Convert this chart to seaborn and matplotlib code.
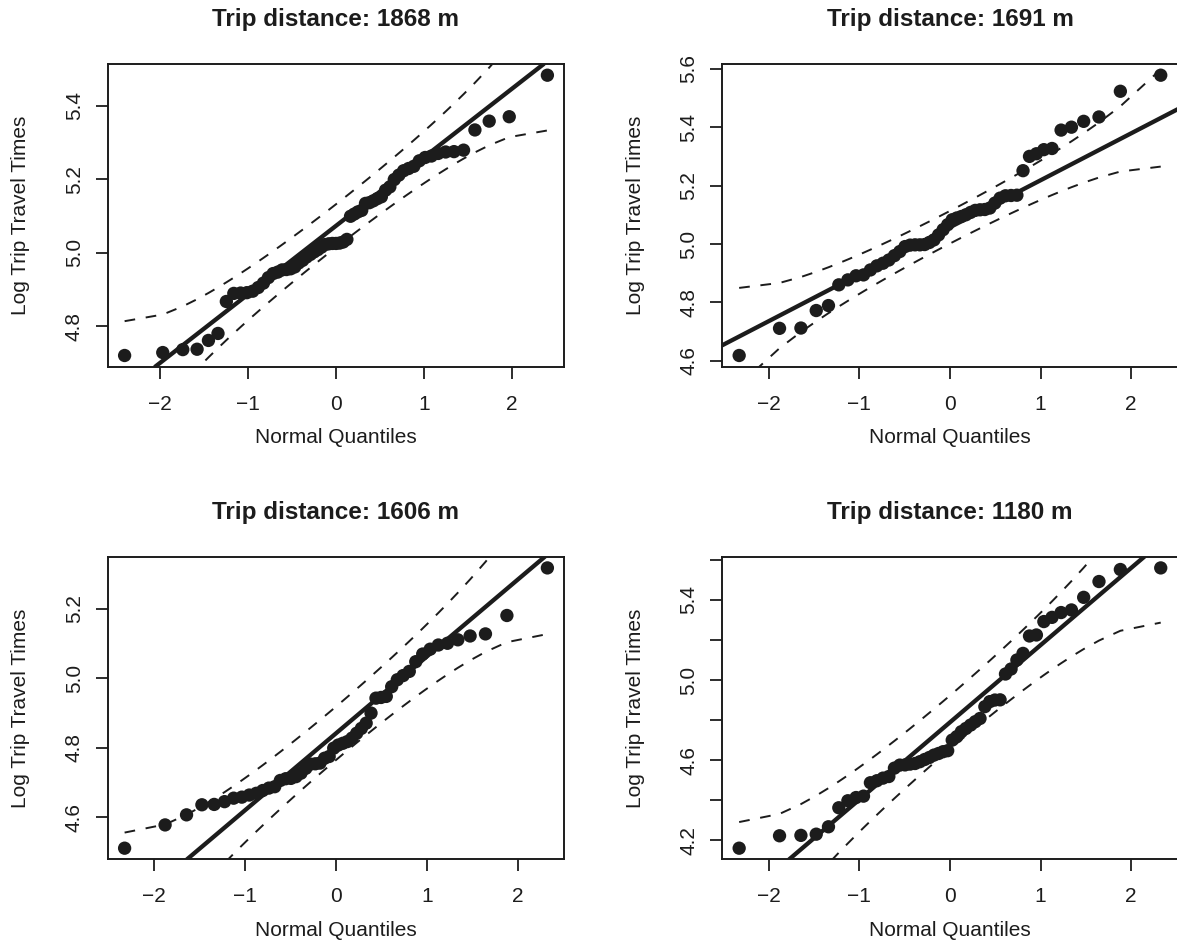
import numpy as np
import matplotlib
matplotlib.use("Agg")
import matplotlib.pyplot as plt
import seaborn as sns
from statistics import NormalDist

# Sorted log travel times for four trips
trip_1868 = [4.720, 4.728, 4.736, 4.737, 4.761, 4.780, 4.867, 4.889, 4.890, 4.891,
             4.895, 4.905, 4.917, 4.932, 4.943, 4.947, 4.953, 4.954, 4.956, 4.961,
             4.972, 4.979, 4.988, 4.995, 5.002, 5.008, 5.015, 5.022, 5.024, 5.025,
             5.025, 5.026, 5.029, 5.036, 5.099, 5.105, 5.111, 5.115, 5.134, 5.136,
             5.141, 5.147, 5.152, 5.170, 5.179, 5.199, 5.211, 5.223, 5.229, 5.235,
             5.250, 5.259, 5.263, 5.270, 5.274, 5.275, 5.279, 5.334, 5.358, 5.370,
             5.483]
trip_1691 = [4.618, 4.711, 4.712, 4.772, 4.789, 4.860, 4.877, 4.891, 4.894, 4.911,
             4.925, 4.934, 4.945, 4.960, 4.974, 4.991, 4.996, 4.997, 4.997, 4.998,
             5.005, 5.014, 5.031, 5.049, 5.066, 5.083, 5.089, 5.094, 5.100, 5.108,
             5.115, 5.117, 5.118, 5.123, 5.140, 5.157, 5.165, 5.166, 5.167, 5.251,
             5.300, 5.309, 5.323, 5.327, 5.390, 5.400, 5.420, 5.435, 5.523, 5.578]
trip_1606 = [4.511, 4.578, 4.607, 4.636, 4.637, 4.645, 4.655, 4.658, 4.664, 4.669,
             4.677, 4.684, 4.688, 4.706, 4.711, 4.712, 4.717, 4.727, 4.741, 4.753,
             4.754, 4.756, 4.770, 4.775, 4.799, 4.808, 4.813, 4.818, 4.828, 4.842,
             4.856, 4.871, 4.900, 4.943, 4.945, 4.948, 4.976, 4.996, 5.008, 5.020,
             5.048, 5.070, 5.084, 5.096, 5.101, 5.111, 5.122, 5.128, 5.181, 5.318]
trip_1180 = [4.160, 4.222, 4.224, 4.230, 4.267, 4.362, 4.397, 4.413, 4.420, 4.487,
             4.497, 4.510, 4.518, 4.560, 4.575, 4.576, 4.580, 4.583, 4.592, 4.603,
             4.613, 4.625, 4.633, 4.642, 4.647, 4.700, 4.717, 4.742, 4.758, 4.775,
             4.792, 4.808, 4.867, 4.892, 4.900, 4.901, 5.030, 5.055, 5.100, 5.133,
             5.220, 5.225, 5.292, 5.313, 5.337, 5.350, 5.413, 5.492, 5.552, 5.560]

titles = ["Trip distance: 1868 m", "Trip distance: 1691 m",
          "Trip distance: 1606 m", "Trip distance: 1180 m"]
samples = [trip_1868, trip_1691, trip_1606, trip_1180]

xticks = [-2, -1, 0, 1, 2]
xtick_labels = ["\u22122", "\u22121", "0", "1", "2"]
yticks = [[4.8, 5.0, 5.2, 5.4],
          [4.6, 4.8, 5.0, 5.2, 5.4, 5.6],
          [4.6, 4.8, 5.0, 5.2],
          [4.2, 4.4, 4.6, 4.8, 5.0, 5.2, 5.4, 5.6]]
ytick_labels = [["4.8", "5.0", "5.2", "5.4"],
                ["4.6", "4.8", "5.0", "5.2", "5.4", "5.6"],
                ["4.6", "4.8", "5.0", "5.2"],
                ["4.2", "", "4.6", "", "5.0", "", "5.4", ""]]

x_label = "Normal Quantiles"
y_label = "Log Trip Travel Times"

sns.set_theme(style="white")
plt.rcParams["font.family"] = ["Liberation Sans", "DejaVu Sans"]

W, H = 1177, 943
fig = plt.figure(figsize=(W / 100, H / 100), dpi=100)

# axes boxes in pixels: left, top, right, bottom
boxes = [(107.7, 64.0, 564.3, 366.7),
         (722.3, 64.0, 1177.6, 366.7),
         (107.7, 556.7, 564.3, 859.4),
         (722.3, 556.7, 1177.6, 859.4)]

ink = "#1c1c1c"
nd = NormalDist()


def qq_panel(ax, values, title, yt, ytl):
    v = np.sort(np.asarray(values, dtype=float))
    n = len(v)
    P = (np.arange(1, n + 1) - 0.5) / n
    z = np.array([nd.inv_cdf(p) for p in P])

    # reference line through the quartiles
    q1, q3 = np.quantile(v, [0.25, 0.75])
    z1, z3 = nd.inv_cdf(0.25), nd.inv_cdf(0.75)
    b = (q3 - q1) / (z3 - z1)
    a = q1 - b * z1

    # pointwise 95% envelope
    dens = np.array([nd.pdf(t) for t in z])
    se = (b / dens) * np.sqrt(P * (1 - P) / n)
    fit = a + b * z
    zz = nd.inv_cdf(0.975)
    upper = fit + zz * se
    lower = fit - zz * se

    sns.scatterplot(x=z, y=v, ax=ax, s=92, color=ink, edgecolor="none",
                    linewidth=0, zorder=4)
    ax.axline((0, a), slope=b, color=ink, lw=3.1, zorder=3)
    sns.lineplot(x=z, y=upper, ax=ax, sort=False, estimator=None, color=ink,
                 lw=1.4, linestyle=(0, (5.5, 5.5)), zorder=2)
    sns.lineplot(x=z, y=lower, ax=ax, sort=False, estimator=None, color=ink,
                 lw=1.4, linestyle=(0, (5.5, 5.5)), zorder=2)

    zr = z.max() - z.min()
    vr = v.max() - v.min()
    ax.set_xlim(z.min() - 0.04 * zr, z.max() + 0.04 * zr)
    ax.set_ylim(v.min() - 0.04 * vr, v.max() + 0.04 * vr)

    ax.set_xticks(xticks)
    ax.set_xticklabels(xtick_labels)
    ax.set_yticks(yt)
    ax.set_yticklabels(ytl, rotation=90, va="center")

    ax.tick_params(axis="both", direction="out", length=8.6, width=1.3,
                   color=ink, labelcolor=ink, labelsize=15, left=True,
                   bottom=True)
    ax.tick_params(axis="x", pad=11.5)
    ax.tick_params(axis="y", pad=8.5)
    for s in ax.spines.values():
        s.set_visible(True)
        s.set_color(ink)
        s.set_linewidth(1.4)

    ax.set_title(title, fontsize=17.5, fontweight="bold", color=ink, pad=27.5)
    ax.set_xlabel(x_label, fontsize=15, color=ink, va="center")
    ax.set_ylabel(y_label, fontsize=15, color=ink, va="center")
    ax.xaxis.set_label_coords(0.5, -71 / 302.7)
    ax.yaxis.set_label_coords(-87.5 / 456.6, 0.5)
    ax.grid(False)


for (l, t, r, btm), vals, ttl, yt, ytl in zip(boxes, samples, titles, yticks, ytick_labels):
    ax = fig.add_axes([l / W, 1 - btm / H, (r - l) / W, (btm - t) / H])
    ax.set_facecolor("white")
    qq_panel(ax, vals, ttl, yt, ytl)

fig.savefig("out.png", dpi=100, facecolor="white")
